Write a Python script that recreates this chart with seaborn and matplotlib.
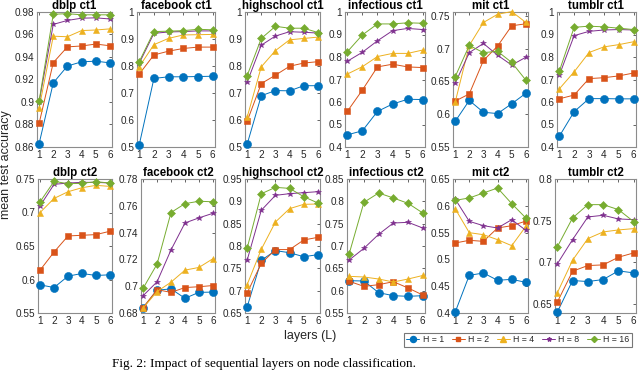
import numpy as np
import pandas as pd
import matplotlib
matplotlib.use("Agg")
import matplotlib.pyplot as plt
import seaborn as sns
from matplotlib.ticker import FuncFormatter
from matplotlib.lines import Line2D

layers = [1, 2, 3, 4, 5, 6]
heads = [1, 2, 4, 8, 16]

panels = ["dblp ct1", "facebook ct1", "highschool ct1", "infectious ct1", "mit ct1", "tumblr ct1",
          "dblp ct2", "facebook ct2", "highschool ct2", "infectious ct2", "mit ct2", "tumblr ct2"]

# accuracy per panel, one list per H (1, 2, 4, 8, 16)
dblp_ct1 = [[0.863, 0.917, 0.932, 0.9357, 0.9363, 0.9348],
            [0.881, 0.935, 0.949, 0.9498, 0.9515, 0.950],
            [0.8947, 0.9585, 0.958, 0.9635, 0.9640, 0.9650],
            [0.9003, 0.9690, 0.9725, 0.9745, 0.9748, 0.9738],
            [0.9010, 0.9780, 0.9785, 0.9775, 0.9775, 0.9775]]
facebook_ct1 = [[0.5075, 0.754, 0.760, 0.760, 0.761, 0.762],
                [0.770, 0.841, 0.855, 0.865, 0.870, 0.870],
                [0.797, 0.879, 0.9025, 0.915, 0.916, 0.917],
                [0.810, 0.921, 0.926, 0.9275, 0.930, 0.930],
                [0.816, 0.9275, 0.929, 0.931, 0.936, 0.934]]
highschool_ct1 = [[0.510, 0.690, 0.709, 0.708, 0.727, 0.727],
                  [0.595, 0.735, 0.766, 0.799, 0.811, 0.816],
                  [0.610, 0.797, 0.857, 0.897, 0.902, 0.907],
                  [0.740, 0.877, 0.911, 0.927, 0.925, 0.922],
                  [0.764, 0.902, 0.947, 0.940, 0.940, 0.924]]
infectious_ct1 = [[0.454, 0.472, 0.558, 0.591, 0.612, 0.611],
                  [0.558, 0.653, 0.756, 0.768, 0.756, 0.753],
                  [0.724, 0.757, 0.802, 0.816, 0.816, 0.831],
                  [0.781, 0.821, 0.872, 0.917, 0.927, 0.922],
                  [0.823, 0.898, 0.947, 0.947, 0.952, 0.950]]
mit_ct1 = [[0.589, 0.621, 0.603, 0.601, 0.616, 0.632],
           [0.620, 0.631, 0.682, 0.704, 0.735, 0.738],
           [0.618, 0.705, 0.740, 0.7525, 0.7567, 0.740],
           [0.647, 0.694, 0.708, 0.690, 0.675, 0.687],
           [0.657, 0.705, 0.694, 0.696, 0.679, 0.652]]
tumblr_ct1 = [[0.447, 0.557, 0.615, 0.615, 0.614, 0.614],
              [0.614, 0.631, 0.704, 0.708, 0.716, 0.729],
              [0.658, 0.734, 0.820, 0.845, 0.855, 0.868],
              [0.718, 0.895, 0.914, 0.920, 0.922, 0.920],
              [0.736, 0.932, 0.937, 0.934, 0.928, 0.922]]
dblp_ct2 = [[0.592, 0.588, 0.605, 0.609, 0.606, 0.607],
            [0.614, 0.641, 0.665, 0.666, 0.667, 0.672],
            [0.700, 0.721, 0.731, 0.737, 0.7405, 0.739],
            [0.710, 0.742, 0.744, 0.7450, 0.745, 0.744],
            [0.716, 0.7465, 0.743, 0.7435, 0.746, 0.744]]
facebook_ct2 = [[0.684, 0.697, 0.698, 0.691, 0.6954, 0.6956],
                [0.684, 0.6974, 0.6954, 0.699, 0.6996, 0.7005],
                [0.6837, 0.696, 0.703, 0.712, 0.714, 0.7205],
                [0.6929, 0.7033, 0.7271, 0.7472, 0.751, 0.7544],
                [0.6984, 0.7165, 0.755, 0.7616, 0.7634, 0.763]]
highschool_ct2 = [[0.6634, 0.768, 0.7896, 0.785, 0.776, 0.7806],
                  [0.6948, 0.761, 0.792, 0.792, 0.8134, 0.8194],
                  [0.7134, 0.7925, 0.8537, 0.8836, 0.8933, 0.894],
                  [0.768, 0.8799, 0.9134, 0.9172, 0.9194, 0.9216],
                  [0.7948, 0.917, 0.9313, 0.929, 0.9104, 0.8963]]
infectious_ct2 = [[0.6224, 0.6216, 0.5955, 0.5888, 0.5873, 0.5888],
                  [0.6209, 0.6097, 0.6134, 0.6201, 0.606, 0.5903],
                  [0.6321, 0.6306, 0.6261, 0.6194, 0.6261, 0.6340],
                  [0.6687, 0.6948, 0.7261, 0.7515, 0.753, 0.7403],
                  [0.6828, 0.7978, 0.8187, 0.8075, 0.7955, 0.7739]]
mit_ct2 = [[0.4013, 0.4703, 0.4746, 0.461, 0.4628, 0.4572],
           [0.5306, 0.5356, 0.5337, 0.5586, 0.5629, 0.5715],
           [0.5947, 0.5499, 0.5461, 0.5368, 0.5256, 0.5617],
           [0.6127, 0.571, 0.5629, 0.5586, 0.5741, 0.5542],
           [0.6102, 0.6146, 0.6239, 0.6332, 0.604, 0.5772]]
tumblr_ct2 = [[0.640, 0.678, 0.6768, 0.6792, 0.6896, 0.6872],
              [0.652, 0.6892, 0.696, 0.6968, 0.706, 0.7112],
              [0.6632, 0.7024, 0.7284, 0.7364, 0.7388, 0.7404],
              [0.698, 0.7272, 0.7544, 0.7564, 0.752, 0.7512],
              [0.7184, 0.7532, 0.7692, 0.7692, 0.7632, 0.7488]]

values = [dblp_ct1, facebook_ct1, highschool_ct1, infectious_ct1, mit_ct1, tumblr_ct1,
          dblp_ct2, facebook_ct2, highschool_ct2, infectious_ct2, mit_ct2, tumblr_ct2]

ylims = [(0.86, 0.98), (0.5, 1.0), (0.5, 1.0), (0.4, 1.0), (0.55, 0.756), (0.4, 1.0),
         (0.55, 0.75), (0.68, 0.78), (0.65, 0.95), (0.55, 0.85), (0.4, 0.65), (0.639, 0.8)]
ysteps = [0.02, 0.1, 0.1, 0.1, 0.05, 0.1,
          0.05, 0.02, 0.05, 0.05, 0.05, 0.05]

colors = ["#0072BD", "#D95319", "#EDB120", "#7E2F8E", "#77AC30"]
markers = ["o", "s", "^", "*", "D"]
msizes = [5.8, 3.9, 5.0, 4.2, 4.1]

sns.set_theme(style="white")
plt.rcParams["font.family"] = ["Liberation Sans", "DejaVu Sans"]

fig = plt.figure(figsize=(6.4, 3.71), dpi=100)
W, H = 640, 371
lefts_top = [37, 137, 245, 345, 453, 557]
rights_top = [112, 215, 320, 425, 528, 636]
lefts_bot = [38, 141, 245, 347, 453, 555]
rights_bot = [112, 215, 320, 425, 528, 636]
rows = [(12, 147), (179, 313)]

gray = "#262626"
for i, name in enumerate(panels):
    r = i // 6
    c = i % 6
    l = (lefts_top if r == 0 else lefts_bot)[c]
    rr = (rights_top if r == 0 else rights_bot)[c]
    t, b = rows[r]
    ax = fig.add_axes([l / W, 1 - b / H, (rr - l) / W, (b - t) / H])
    rows_df = []
    for hi, h in enumerate(heads):
        for li, L in enumerate(layers):
            rows_df.append({"layer": L, "acc": values[i][hi][li], "H": h})
    df = pd.DataFrame(rows_df)
    for hi, h in enumerate(heads):
        sub = df[df["H"] == h]
        sns.lineplot(data=sub, x="layer", y="acc", ax=ax, color=colors[hi],
                     marker=markers[hi], markersize=msizes[hi], linewidth=0.7,
                     markeredgecolor=colors[hi], markeredgewidth=0.4, legend=False,
                     clip_on=False, zorder=3 + hi)
    lo, hi_ = ylims[i]
    ax.set_xlim(0.85, 6.15)
    ax.set_ylim(lo, hi_)
    st = ysteps[i]
    start = np.ceil(lo / st - 1e-6) * st
    ticks = np.arange(start, hi_ + 1e-9, st)
    ax.set_yticks(ticks)
    ax.yaxis.set_major_formatter(FuncFormatter(lambda v, p: ("%g" % round(v, 3))))
    ax.set_xticks(layers)
    ax.set_xlabel("")
    ax.set_ylabel("")
    ax.set_title(name, fontsize=8.3, fontweight="bold", pad=2, color="black")
    ax.tick_params(direction="in", length=2, width=0.5, labelsize=7.2, colors=gray,
                   top=True, right=True, pad=2)
    for s in ax.spines.values():
        s.set_color("#8c8c8c")
        s.set_linewidth(0.8)
        s.set_zorder(1)

fig.text(6 / W, 1 - 165 / H, "mean test accuracy", rotation=90, ha="center", va="center",
         fontsize=9, color=gray)
fig.text(310 / W, 1 - 336 / H, "layers (L)", ha="center", va="center", fontsize=9, color=gray)

handles = [Line2D([], [], color=colors[k], marker=markers[k], markersize=msizes[k] * 0.75,
                  linewidth=0.7) for k in range(5)]
labels = ["H = %d" % h for h in heads]
leg = fig.legend(handles, labels, ncol=5, loc="center", bbox_to_anchor=(518 / W, 1 - 340 / H),
                 fontsize=6.3, frameon=True, fancybox=False, handlelength=1.5, handletextpad=0.35,
                 columnspacing=0.9, borderpad=0.25, borderaxespad=0)
leg.get_frame().set_edgecolor("#555555")
leg.get_frame().set_linewidth(0.8)

fig.text(112 / W, 1 - 370 / H, "Fig. 2: Impact of sequential layers on node classification.",
         ha="left", va="bottom", fontsize=9.5, family=["Liberation Serif", "DejaVu Serif"],
         color="black")

fig.savefig("out.png", dpi=100)
